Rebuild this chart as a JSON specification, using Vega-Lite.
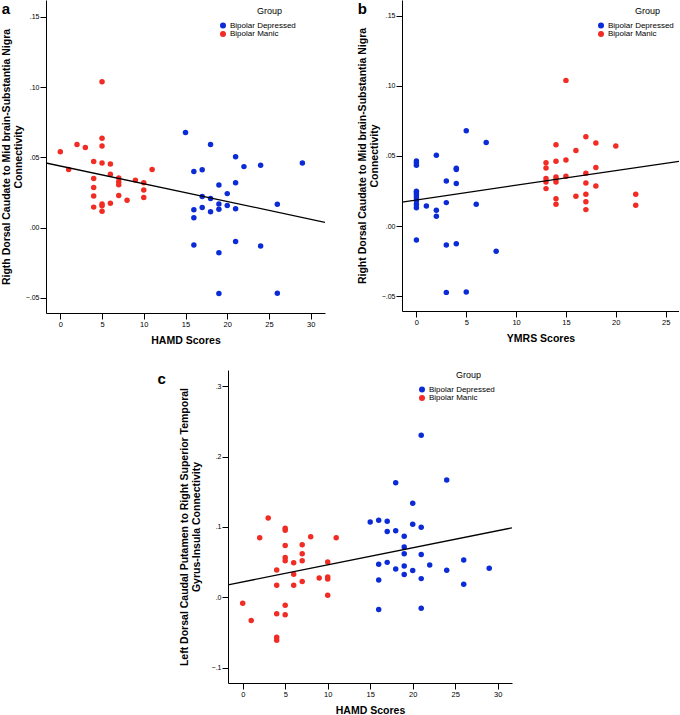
{
  "$schema": "https://vega.github.io/schema/vega-lite/v6.json",
  "padding": {"left": 1, "top": 0, "right": 0, "bottom": 0},
  "background": "white",
  "config": {
    "font": "Liberation Sans",
    "view": {"stroke": null},
    "axis": {
      "grid": false,
      "domainColor": "#000000",
      "domainWidth": 1,
      "tickColor": "#000000",
      "tickSize": 6,
      "tickWidth": 1,
      "labelColor": "#000000",
      "labelFontSize": 7.5,
      "labelPadding": 1,
      "titleColor": "#000000",
      "titleFontSize": 10.5,
      "titleFontWeight": "bold",
      "titleLineHeight": 11.5
    },
    "axisX": {"titlePadding": 8},
    "axisY": {"titlePadding": 2, "labelFontSize": 7},
    "legend": {
      "orient": "none",
      "padding": 0,
      "symbolType": "circle",
      "symbolSize": 36,
      "symbolStrokeWidth": 0,
      "labelFontSize": 8,
      "labelColor": "#000000",
      "labelOffset": 3,
      "titleFontSize": 9,
      "titleFontWeight": "normal",
      "titleColor": "#000000",
      "titleAnchor": "middle",
      "titleAlign": "left",
      "titlePadding": 5.5,
      "rowPadding": 0.6
    }
  },
  "datasets": {
    "panelA": [
      {"score": 0, "conn": 0.054, "group": "Bipolar Manic"},
      {"score": 1, "conn": 0.0413, "group": "Bipolar Manic"},
      {"score": 2, "conn": 0.0592, "group": "Bipolar Manic"},
      {"score": 3, "conn": 0.057, "group": "Bipolar Manic"},
      {"score": 4, "conn": 0.047, "group": "Bipolar Manic"},
      {"score": 4, "conn": 0.035, "group": "Bipolar Manic"},
      {"score": 4, "conn": 0.0286, "group": "Bipolar Manic"},
      {"score": 4, "conn": 0.0225, "group": "Bipolar Manic"},
      {"score": 4, "conn": 0.0146, "group": "Bipolar Manic"},
      {"score": 5, "conn": 0.1038, "group": "Bipolar Manic"},
      {"score": 5, "conn": 0.0636, "group": "Bipolar Manic"},
      {"score": 5, "conn": 0.058, "group": "Bipolar Manic"},
      {"score": 5, "conn": 0.046, "group": "Bipolar Manic"},
      {"score": 5, "conn": 0.0169, "group": "Bipolar Manic"},
      {"score": 5, "conn": 0.0155, "group": "Bipolar Manic"},
      {"score": 5, "conn": 0.0117, "group": "Bipolar Manic"},
      {"score": 6, "conn": 0.0453, "group": "Bipolar Manic"},
      {"score": 6, "conn": 0.038, "group": "Bipolar Manic"},
      {"score": 6, "conn": 0.0174, "group": "Bipolar Manic"},
      {"score": 7, "conn": 0.0354, "group": "Bipolar Manic"},
      {"score": 7, "conn": 0.0326, "group": "Bipolar Manic"},
      {"score": 7, "conn": 0.0305, "group": "Bipolar Manic"},
      {"score": 7, "conn": 0.0228, "group": "Bipolar Manic"},
      {"score": 8, "conn": 0.0195, "group": "Bipolar Manic"},
      {"score": 9, "conn": 0.0338, "group": "Bipolar Manic"},
      {"score": 10, "conn": 0.0319, "group": "Bipolar Manic"},
      {"score": 10, "conn": 0.0268, "group": "Bipolar Manic"},
      {"score": 10, "conn": 0.0214, "group": "Bipolar Manic"},
      {"score": 11, "conn": 0.0413, "group": "Bipolar Manic"},
      {"score": 15, "conn": 0.0676, "group": "Bipolar Depressed"},
      {"score": 16, "conn": 0.0399, "group": "Bipolar Depressed"},
      {"score": 16, "conn": 0.0127, "group": "Bipolar Depressed"},
      {"score": 16, "conn": 0.007, "group": "Bipolar Depressed"},
      {"score": 16, "conn": -0.0124, "group": "Bipolar Depressed"},
      {"score": 17, "conn": 0.0411, "group": "Bipolar Depressed"},
      {"score": 17, "conn": 0.0221, "group": "Bipolar Depressed"},
      {"score": 17, "conn": 0.0143, "group": "Bipolar Depressed"},
      {"score": 18, "conn": 0.0592, "group": "Bipolar Depressed"},
      {"score": 18, "conn": 0.0207, "group": "Bipolar Depressed"},
      {"score": 18, "conn": 0.0113, "group": "Bipolar Depressed"},
      {"score": 19, "conn": 0.0303, "group": "Bipolar Depressed"},
      {"score": 19, "conn": 0.0169, "group": "Bipolar Depressed"},
      {"score": 19, "conn": 0.0131, "group": "Bipolar Depressed"},
      {"score": 19, "conn": -0.0178, "group": "Bipolar Depressed"},
      {"score": 19, "conn": -0.0469, "group": "Bipolar Depressed"},
      {"score": 20, "conn": 0.0242, "group": "Bipolar Depressed"},
      {"score": 20, "conn": 0.0157, "group": "Bipolar Depressed"},
      {"score": 21, "conn": 0.0505, "group": "Bipolar Depressed"},
      {"score": 21, "conn": 0.0319, "group": "Bipolar Depressed"},
      {"score": 21, "conn": 0.0134, "group": "Bipolar Depressed"},
      {"score": 21, "conn": -0.0099, "group": "Bipolar Depressed"},
      {"score": 22, "conn": 0.0434, "group": "Bipolar Depressed"},
      {"score": 24, "conn": 0.0444, "group": "Bipolar Depressed"},
      {"score": 24, "conn": -0.0131, "group": "Bipolar Depressed"},
      {"score": 26, "conn": 0.0167, "group": "Bipolar Depressed"},
      {"score": 26, "conn": -0.0467, "group": "Bipolar Depressed"},
      {"score": 29, "conn": 0.046, "group": "Bipolar Depressed"}
    ],
    "fitA": [
      {"score": -1.713, "conn": 0.046},
      {"score": 31.71, "conn": 0.0038}
    ],
    "panelB": [
      {"score": 0, "conn": 0.0464, "group": "Bipolar Depressed"},
      {"score": 0, "conn": 0.045, "group": "Bipolar Depressed"},
      {"score": 0, "conn": 0.0434, "group": "Bipolar Depressed"},
      {"score": 0, "conn": 0.0248, "group": "Bipolar Depressed"},
      {"score": 0, "conn": 0.0236, "group": "Bipolar Depressed"},
      {"score": 0, "conn": 0.0221, "group": "Bipolar Depressed"},
      {"score": 0, "conn": 0.0203, "group": "Bipolar Depressed"},
      {"score": 0, "conn": 0.0179, "group": "Bipolar Depressed"},
      {"score": 0, "conn": 0.0153, "group": "Bipolar Depressed"},
      {"score": 0, "conn": 0.0131, "group": "Bipolar Depressed"},
      {"score": 0, "conn": -0.01, "group": "Bipolar Depressed"},
      {"score": 1, "conn": 0.0143, "group": "Bipolar Depressed"},
      {"score": 2, "conn": 0.0505, "group": "Bipolar Depressed"},
      {"score": 2, "conn": 0.0112, "group": "Bipolar Depressed"},
      {"score": 2, "conn": 0.0069, "group": "Bipolar Depressed"},
      {"score": 3, "conn": 0.0321, "group": "Bipolar Depressed"},
      {"score": 3, "conn": 0.0167, "group": "Bipolar Depressed"},
      {"score": 3, "conn": -0.0136, "group": "Bipolar Depressed"},
      {"score": 3, "conn": -0.0474, "group": "Bipolar Depressed"},
      {"score": 4, "conn": 0.0412, "group": "Bipolar Depressed"},
      {"score": 4, "conn": 0.0403, "group": "Bipolar Depressed"},
      {"score": 4, "conn": 0.0303, "group": "Bipolar Depressed"},
      {"score": 4, "conn": -0.0126, "group": "Bipolar Depressed"},
      {"score": 5, "conn": 0.0681, "group": "Bipolar Depressed"},
      {"score": 5, "conn": -0.0471, "group": "Bipolar Depressed"},
      {"score": 6, "conn": 0.0155, "group": "Bipolar Depressed"},
      {"score": 7, "conn": 0.0596, "group": "Bipolar Depressed"},
      {"score": 8, "conn": -0.0181, "group": "Bipolar Depressed"},
      {"score": 13, "conn": 0.0452, "group": "Bipolar Manic"},
      {"score": 13, "conn": 0.0414, "group": "Bipolar Manic"},
      {"score": 13, "conn": 0.034, "group": "Bipolar Manic"},
      {"score": 13, "conn": 0.0314, "group": "Bipolar Manic"},
      {"score": 13, "conn": 0.0267, "group": "Bipolar Manic"},
      {"score": 14, "conn": 0.0581, "group": "Bipolar Manic"},
      {"score": 14, "conn": 0.0462, "group": "Bipolar Manic"},
      {"score": 14, "conn": 0.035, "group": "Bipolar Manic"},
      {"score": 14, "conn": 0.0336, "group": "Bipolar Manic"},
      {"score": 14, "conn": 0.0314, "group": "Bipolar Manic"},
      {"score": 14, "conn": 0.0195, "group": "Bipolar Manic"},
      {"score": 14, "conn": 0.0155, "group": "Bipolar Manic"},
      {"score": 15, "conn": 0.104, "group": "Bipolar Manic"},
      {"score": 15, "conn": 0.0471, "group": "Bipolar Manic"},
      {"score": 15, "conn": 0.0355, "group": "Bipolar Manic"},
      {"score": 16, "conn": 0.054, "group": "Bipolar Manic"},
      {"score": 16, "conn": 0.0212, "group": "Bipolar Manic"},
      {"score": 17, "conn": 0.0638, "group": "Bipolar Manic"},
      {"score": 17, "conn": 0.0376, "group": "Bipolar Manic"},
      {"score": 17, "conn": 0.0307, "group": "Bipolar Manic"},
      {"score": 17, "conn": 0.0226, "group": "Bipolar Manic"},
      {"score": 17, "conn": 0.0174, "group": "Bipolar Manic"},
      {"score": 17, "conn": 0.0117, "group": "Bipolar Manic"},
      {"score": 18, "conn": 0.0593, "group": "Bipolar Manic"},
      {"score": 18, "conn": 0.0417, "group": "Bipolar Manic"},
      {"score": 18, "conn": 0.0286, "group": "Bipolar Manic"},
      {"score": 20, "conn": 0.0571, "group": "Bipolar Manic"},
      {"score": 22, "conn": 0.0226, "group": "Bipolar Manic"},
      {"score": 22, "conn": 0.0148, "group": "Bipolar Manic"}
    ],
    "fitB": [
      {"score": -1.446, "conn": 0.0171},
      {"score": 26.34, "conn": 0.0462}
    ],
    "panelC": [
      {"score": 0, "conn": -0.0085, "group": "Bipolar Manic"},
      {"score": 1, "conn": -0.033, "group": "Bipolar Manic"},
      {"score": 2, "conn": 0.0844, "group": "Bipolar Manic"},
      {"score": 3, "conn": 0.1127, "group": "Bipolar Manic"},
      {"score": 4, "conn": 0.0387, "group": "Bipolar Manic"},
      {"score": 4, "conn": 0.017, "group": "Bipolar Manic"},
      {"score": 4, "conn": -0.0236, "group": "Bipolar Manic"},
      {"score": 4, "conn": -0.057, "group": "Bipolar Manic"},
      {"score": 4, "conn": -0.0613, "group": "Bipolar Manic"},
      {"score": 5, "conn": 0.0981, "group": "Bipolar Manic"},
      {"score": 5, "conn": 0.0953, "group": "Bipolar Manic"},
      {"score": 5, "conn": 0.0736, "group": "Bipolar Manic"},
      {"score": 5, "conn": 0.0566, "group": "Bipolar Manic"},
      {"score": 5, "conn": 0.0519, "group": "Bipolar Manic"},
      {"score": 5, "conn": -0.0113, "group": "Bipolar Manic"},
      {"score": 5, "conn": -0.025, "group": "Bipolar Manic"},
      {"score": 6, "conn": 0.049, "group": "Bipolar Manic"},
      {"score": 6, "conn": 0.0325, "group": "Bipolar Manic"},
      {"score": 6, "conn": 0.017, "group": "Bipolar Manic"},
      {"score": 7, "conn": 0.0745, "group": "Bipolar Manic"},
      {"score": 7, "conn": 0.0618, "group": "Bipolar Manic"},
      {"score": 7, "conn": 0.0519, "group": "Bipolar Manic"},
      {"score": 7, "conn": 0.0222, "group": "Bipolar Manic"},
      {"score": 8, "conn": 0.0858, "group": "Bipolar Manic"},
      {"score": 9, "conn": 0.0274, "group": "Bipolar Manic"},
      {"score": 10, "conn": 0.05, "group": "Bipolar Manic"},
      {"score": 10, "conn": 0.0288, "group": "Bipolar Manic"},
      {"score": 10, "conn": 0.026, "group": "Bipolar Manic"},
      {"score": 10, "conn": 0.0028, "group": "Bipolar Manic"},
      {"score": 11, "conn": 0.0844, "group": "Bipolar Manic"},
      {"score": 15, "conn": 0.107, "group": "Bipolar Depressed"},
      {"score": 16, "conn": 0.1094, "group": "Bipolar Depressed"},
      {"score": 16, "conn": 0.0467, "group": "Bipolar Depressed"},
      {"score": 16, "conn": 0.0245, "group": "Bipolar Depressed"},
      {"score": 16, "conn": -0.0175, "group": "Bipolar Depressed"},
      {"score": 17, "conn": 0.108, "group": "Bipolar Depressed"},
      {"score": 17, "conn": 0.0934, "group": "Bipolar Depressed"},
      {"score": 17, "conn": 0.0495, "group": "Bipolar Depressed"},
      {"score": 18, "conn": 0.1627, "group": "Bipolar Depressed"},
      {"score": 18, "conn": 0.0943, "group": "Bipolar Depressed"},
      {"score": 18, "conn": 0.0401, "group": "Bipolar Depressed"},
      {"score": 19, "conn": 0.0866, "group": "Bipolar Depressed"},
      {"score": 19, "conn": 0.0714, "group": "Bipolar Depressed"},
      {"score": 19, "conn": 0.0619, "group": "Bipolar Depressed"},
      {"score": 19, "conn": 0.0445, "group": "Bipolar Depressed"},
      {"score": 19, "conn": 0.0321, "group": "Bipolar Depressed"},
      {"score": 20, "conn": 0.1335, "group": "Bipolar Depressed"},
      {"score": 20, "conn": 0.1037, "group": "Bipolar Depressed"},
      {"score": 20, "conn": 0.0378, "group": "Bipolar Depressed"},
      {"score": 21, "conn": 0.2302, "group": "Bipolar Depressed"},
      {"score": 21, "conn": 0.0995, "group": "Bipolar Depressed"},
      {"score": 21, "conn": 0.0608, "group": "Bipolar Depressed"},
      {"score": 21, "conn": 0.0264, "group": "Bipolar Depressed"},
      {"score": 21, "conn": -0.0156, "group": "Bipolar Depressed"},
      {"score": 22, "conn": 0.0458, "group": "Bipolar Depressed"},
      {"score": 24, "conn": 0.1665, "group": "Bipolar Depressed"},
      {"score": 24, "conn": 0.0382, "group": "Bipolar Depressed"},
      {"score": 26, "conn": 0.0528, "group": "Bipolar Depressed"},
      {"score": 26, "conn": 0.0184, "group": "Bipolar Depressed"},
      {"score": 29, "conn": 0.041, "group": "Bipolar Depressed"}
    ],
    "fitC": [
      {"score": -1.73, "conn": 0.0175},
      {"score": 31.68, "conn": 0.0986}
    ]
  },
  "resolve": {"scale": {"color": "independent"}, "legend": {"color": "independent"}},
  "spacing": 24,
  "vconcat": [
    {
      "hconcat": [
        {
          "width": 279,
          "height": 313,
          "title": {"text": "a", "anchor": "start", "frame": "bounds", "orient": "top", "fontSize": 15, "fontWeight": "bold", "color": "#000000", "baseline": "top", "offset": -17},
          "layer": [
            {
              "data": {"name": "panelA"},
              "mark": {"type": "circle", "size": 30, "opacity": 1},
              "encoding": {
                "x": {"field": "score", "type": "quantitative", "scale": {"domain": [-1.713, 31.71], "nice": false, "zero": false}, "axis": {"values": [0, 5, 10, 15, 20, 25, 30], "title": "HAMD Scores"}},
                "y": {"field": "conn", "type": "quantitative", "scale": {"domain": [-0.0607, 0.1619], "nice": false, "zero": false}, "axis": {"values": [-0.05, 0, 0.05, 0.1, 0.15], "labelExpr": "replace(format(datum.value, '.2f'), '0.', '.')", "title": ["Rigth Dorsal Caudate to Mid brain-Substantia Nigra", "Connectivity"]}},
                "color": {"field": "group", "type": "nominal", "scale": {"domain": ["Bipolar Depressed", "Bipolar Manic"], "range": ["#0b2bd6", "#f02c24"]}, "legend": {"title": "Group", "legendX": 173, "legendY": 7}}
              }
            },
            {
              "data": {"name": "fitA"},
              "mark": {"type": "line", "color": "#000000", "strokeWidth": 1.3, "clip": true},
              "encoding": {
                "x": {"field": "score", "type": "quantitative"},
                "y": {"field": "conn", "type": "quantitative"}
              }
            }
          ]
        },
        {
          "width": 277,
          "height": 311,
          "title": {"text": "b", "anchor": "start", "frame": "bounds", "orient": "top", "fontSize": 15, "fontWeight": "bold", "color": "#000000", "baseline": "top", "offset": -17},
          "layer": [
            {
              "data": {"name": "panelB"},
              "mark": {"type": "circle", "size": 30, "opacity": 1},
              "encoding": {
                "x": {"field": "score", "type": "quantitative", "scale": {"domain": [-1.446, 26.34], "nice": false, "zero": false}, "axis": {"values": [0, 5, 10, 15, 20, 25], "title": "YMRS Scores"}},
                "y": {"field": "conn", "type": "quantitative", "scale": {"domain": [-0.0607, 0.1614], "nice": false, "zero": false}, "axis": {"values": [-0.05, 0, 0.05, 0.1, 0.15], "labelExpr": "replace(format(datum.value, '.2f'), '0.', '.')", "title": ["Right Dorsal Caudate to Mid brain-Substantia Nigra", "Connectivity"]}},
                "color": {"field": "group", "type": "nominal", "scale": {"domain": ["Bipolar Depressed", "Bipolar Manic"], "range": ["#0b2bd6", "#f02c24"]}, "legend": {"title": "Group", "legendX": 195, "legendY": 7}}
              }
            },
            {
              "data": {"name": "fitB"},
              "mark": {"type": "line", "color": "#000000", "strokeWidth": 1.3, "clip": true},
              "encoding": {
                "x": {"field": "score", "type": "quantitative"},
                "y": {"field": "conn", "type": "quantitative"}
              }
            }
          ]
        }
      ],
      "spacing": 32,
      "resolve": {"scale": {"color": "independent"}, "legend": {"color": "independent"}}
    },
    {
      "hconcat": [
        {
          "width": 111,
          "height": 10,
          "data": {"values": []},
          "mark": {"type": "point", "opacity": 0},
          "encoding": {}
        },
        {
          "width": 284,
          "height": 313,
          "title": {"text": "c", "anchor": "start", "frame": "bounds", "orient": "top", "fontSize": 15, "fontWeight": "bold", "color": "#000000", "baseline": "top", "offset": -17, "dx": -22},
          "layer": [
            {
              "data": {"name": "panelC"},
              "mark": {"type": "circle", "size": 30, "opacity": 1},
              "encoding": {
                "x": {"field": "score", "type": "quantitative", "scale": {"domain": [-1.73, 31.68], "nice": false, "zero": false}, "axis": {"values": [0, 5, 10, 15, 20, 25, 30], "title": "HAMD Scores"}},
                "y": {"field": "conn", "type": "quantitative", "scale": {"domain": [-0.122, 0.323], "nice": false, "zero": false}, "axis": {"values": [-0.1, 0, 0.1, 0.2, 0.3], "titlePadding": 10, "labelExpr": "replace(format(datum.value, '.1f'), '0.', '.')", "title": ["Left Dorsal Caudal Putamen to Right Superior Temporal", "Gyrus-Insula Connectivity"]}},
                "color": {"field": "group", "type": "nominal", "scale": {"domain": ["Bipolar Depressed", "Bipolar Manic"], "range": ["#0b2bd6", "#f02c24"]}, "legend": {"title": "Group", "legendX": 190, "legendY": 1}}
              }
            },
            {
              "data": {"name": "fitC"},
              "mark": {"type": "line", "color": "#000000", "strokeWidth": 1.3, "clip": true},
              "encoding": {
                "x": {"field": "score", "type": "quantitative"},
                "y": {"field": "conn", "type": "quantitative"}
              }
            }
          ]
        }
      ],
      "spacing": 0,
      "resolve": {"scale": {"color": "independent"}, "legend": {"color": "independent"}}
    }
  ]
}
